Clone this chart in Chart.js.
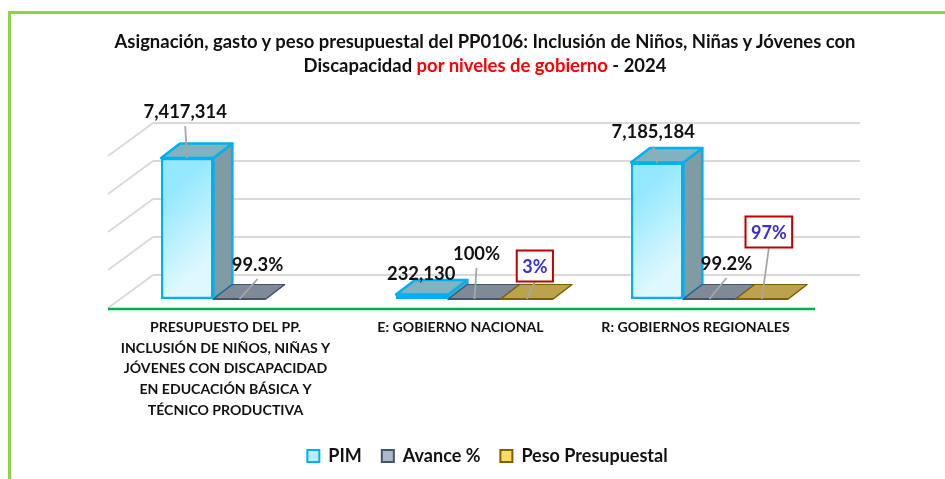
<!DOCTYPE html>
<html lang="es">
<head>
<meta charset="utf-8">
<title>PP0106</title>
<script src="https://cdn.jsdelivr.net/npm/chart.js@4/dist/chart.umd.min.js"></script>
<style>
html,body{margin:0;padding:0;background:#fff;width:945px;height:479px;overflow:hidden}
#frame{position:absolute;left:8px;top:11px;width:937px;height:468px;border-left:3.5px solid #92D050;border-top:3.5px solid #92D050;box-sizing:border-box}
#title{position:absolute;left:15px;top:29px;width:940px;text-align:center;font:bold 18.45px/24px Lato,sans-serif;color:#111}
#title span{color:#FF0000}
canvas{position:absolute;left:0;top:0}
</style>
</head>
<body>
<div id="frame"></div>
<canvas id="c" width="945" height="479"></canvas>
<div id="title">Asignación, gasto y peso presupuestal del PP0106: Inclusión de Niños, Niñas y Jóvenes con<br>Discapacidad <span>por niveles de gobierno</span> - 2024</div>
<script>
const categories = [
  ["PRESUPUESTO DEL PP.","INCLUSIÓN DE NIÑOS, NIÑAS Y","JÓVENES CON DISCAPACIDAD","EN EDUCACIÓN BÁSICA Y","TÉCNICO PRODUCTIVA"],
  "E: GOBIERNO NACIONAL",
  "R: GOBIERNOS REGIONALES"
];
const pim = [7417314, 232130, 7185184];
const avance = [0.993, 1, 0.992];
const peso = [null, 0.03, 0.97];
const seriesNames = ["PIM", "Avance %", "Peso Presupuestal"];
const yTickStep = 2000000;
const yMax = 8000000;

// label placement relative to each bar's top centre: [dx, dy]
const pimLabelOffset = [[-2,-46],[-1,-21],[-4,-30]];
const avanceLabelOffset = [[18,-34],[2,-45],[17,-35]];
const pesoLabelOffset = [null,[8,-33],[7,-67]];

const DEPTH_X = 19, DEPTH_Y = 14.5, BACK_Y = 24;
const FONT = 'Lato, sans-serif';
const pct = v => (Math.round(v*1000)/10) + '%';

const styles = [
  {top:'#7FB3C2', side:'#7F9CA5', edge:'#00B0F0', lw:2.5},
  {top:'#7F8A99', side:'#7F8A99', edge:'#44546A', lw:2},
  {top:'#BCA24C', side:'#BCA24C', edge:'#7F6000', lw:2}
];

const scene = {
  id:'scene',
  beforeDatasetsDraw(chart){
    const {ctx, scales:{y,x}} = chart;
    ctx.save();
    // back wall gridlines and floor diagonals, from the y-axis ticks
    ctx.strokeStyle='#D9D9D9'; ctx.lineWidth=1.8;
    y.ticks.forEach(t=>{
      const py=y.getPixelForValue(t.value)-BACK_Y;
      ctx.beginPath();
      ctx.moveTo(x.left+31,py);
      ctx.lineTo(x.right+33,py);
      ctx.stroke();
      ctx.beginPath();
      ctx.moveTo(x.left+31,py);
      ctx.lineTo(x.left-14,py+33);
      ctx.stroke();
    });
    // floor front edge
    ctx.strokeStyle='#00B050'; ctx.lineWidth=2.5;
    ctx.beginPath();
    ctx.moveTo(x.left-14,x.top+10);
    ctx.lineTo(x.right-12,x.top+10);
    ctx.stroke();
    // 3D faces
    [0,1,2].forEach(ds=>{
      const s=styles[ds], values=chart.data.datasets[ds].data;
      chart.getDatasetMeta(ds).data.forEach((el,i)=>{
        if(values[i]===null) return;
        const l=el.x-el.width/2, r=el.x+el.width/2, t=el.y, b=el.base;
        ctx.strokeStyle=s.edge; ctx.lineJoin='round';
        ctx.lineWidth = ds===0 ? s.lw : 1.2;
        // side face
        ctx.fillStyle=s.side;
        ctx.beginPath();
        ctx.moveTo(r,t);ctx.lineTo(r+DEPTH_X,t-DEPTH_Y);ctx.lineTo(r+DEPTH_X,b-DEPTH_Y);ctx.lineTo(r,b);ctx.closePath();
        ctx.fill();ctx.stroke();
        // top face
        ctx.fillStyle=s.top;
        ctx.beginPath();
        ctx.moveTo(l,t);ctx.lineTo(l+DEPTH_X,t-DEPTH_Y);ctx.lineTo(r+DEPTH_X,t-DEPTH_Y);ctx.lineTo(r,t);ctx.closePath();
        ctx.fill();
        if(ds===0) ctx.stroke();
        else {
          ctx.beginPath();ctx.moveTo(l,t);ctx.lineTo(l+DEPTH_X,t-DEPTH_Y);ctx.lineTo(r+DEPTH_X,t-DEPTH_Y);ctx.lineTo(r,t);ctx.stroke();
          ctx.lineWidth=s.lw;ctx.beginPath();ctx.moveTo(l,b);ctx.lineTo(r,b);ctx.stroke();
        }
      });
    });
    ctx.restore();
  },
  afterDatasetsDraw(chart){
    const {ctx} = chart;
    const sets=[
      {values:pim, off:pimLabelOffset, fmt:v=>v.toLocaleString('en-US'), box:false},
      {values:avance, off:avanceLabelOffset, fmt:pct, box:false},
      {values:peso, off:pesoLabelOffset, fmt:pct, box:true}
    ];
    ctx.save();
    ctx.textAlign='center';ctx.textBaseline='middle';
    sets.forEach((set,ds)=>{
      const meta=chart.getDatasetMeta(ds);
      set.values.forEach((v,i)=>{
        if(v===null) return;
        const el=meta.data[i], [dx,dy]=set.off[i];
        const lx=el.x+dx, ly=el.y+dy;
        const small=ds===0&&v<1000000;
        if(!small){
          ctx.strokeStyle='#A6A6A6';ctx.lineWidth=1.8;
          ctx.beginPath();
          ctx.moveTo(el.x,el.y);
          const ty = set.box ? ly+16 : ly+14;
          ctx.lineTo(lx,ty);
          ctx.stroke();
        }
        const text=set.fmt(v);
        if(set.box){
          ctx.font='bold 18px '+FONT;
          const w=ctx.measureText(text).width+11;
          ctx.fillStyle='#fff';ctx.strokeStyle='#C00000';ctx.lineWidth=2;
          ctx.fillRect(lx-w/2,ly-15.5,w,31);ctx.strokeRect(lx-w/2,ly-15.5,w,31);
          ctx.fillStyle='#3B2FD0';
          ctx.fillText(text,lx,ly+1);
        } else {
          ctx.font='bold 18.4px '+FONT;
          ctx.fillStyle='#111';
          ctx.fillText(text,lx,ly);
        }
      });
    });
    ctx.restore();
  }
};

function frontFill(c){
  const chart=c.chart, xs=chart.scales.x, ys=chart.scales.y;
  if(!chart.chartArea||!xs||!ys) return '#BDEBFF';
  const w=xs.width/categories.length*0.668/3;
  const left=xs.getPixelForValue(c.dataIndex)-1.5*w;
  const top=ys.getPixelForValue(pim[c.dataIndex]), bot=ys.getPixelForValue(0);
  const h=bot-top;
  const g=chart.ctx.createLinearGradient(left,top+h*0.3,left+w,top+h*0.7);
  g.addColorStop(0,'#94E8FF');
  g.addColorStop(1,'#DFF8FF');
  return g;
}

new Chart(document.getElementById('c'),{
  type:'bar',
  data:{labels:categories,datasets:[
    {label:seriesNames[0],data:pim,backgroundColor:frontFill,borderColor:'#00B0F0',borderWidth:2.5,borderSkipped:false},
    {label:seriesNames[1],data:avance,backgroundColor:'#44546A',borderWidth:0},
    {label:seriesNames[2],data:peso,backgroundColor:'#7F6000',borderWidth:0}
  ]},
  options:{
    responsive:false,animation:false,
    layout:{padding:{left:30,right:0,top:147,bottom:4}},
    datasets:{bar:{categoryPercentage:0.668,barPercentage:1}},
    scales:{
      x:{
        grid:{display:false},border:{display:false},
        afterFit(s){s.height=128;},
        ticks:{autoSkip:false,maxRotation:0,minRotation:0,padding:10,labelOffset:-14,color:'#111',
          font:{family:FONT,weight:'bold',size:14.1,lineHeight:1.47}}
      },
      y:{
        min:0,max:yMax,
        grid:{display:false},border:{display:false},
        afterFit(s){s.width=92;},
        ticks:{stepSize:yTickStep,display:false}
      },
      y2:{
        position:'right',min:0,max:yMax,
        grid:{display:false},border:{display:false},
        afterFit(s){s.width=118;},
        ticks:{display:false}
      }
    },
    plugins:{
      tooltip:{enabled:false},
      title:{display:false},
      legend:{
        position:'bottom',
        labels:{
          boxWidth:12,boxHeight:12,padding:20,color:'#111',
          font:{family:FONT,weight:'bold',size:18},
          generateLabels(){
            const fills=['#BDEBFF','#ADB9CA','#FFD966'];
            const edges=['#00B0F0','#44546A','#7F6000'];
            return seriesNames.map((n,i)=>({text:n,fillStyle:fills[i],strokeStyle:edges[i],lineWidth:2,datasetIndex:i,fontColor:'#111'}));
          }
        }
      }
    }
  },
  plugins:[scene]
});
</script>
</body>
</html>
